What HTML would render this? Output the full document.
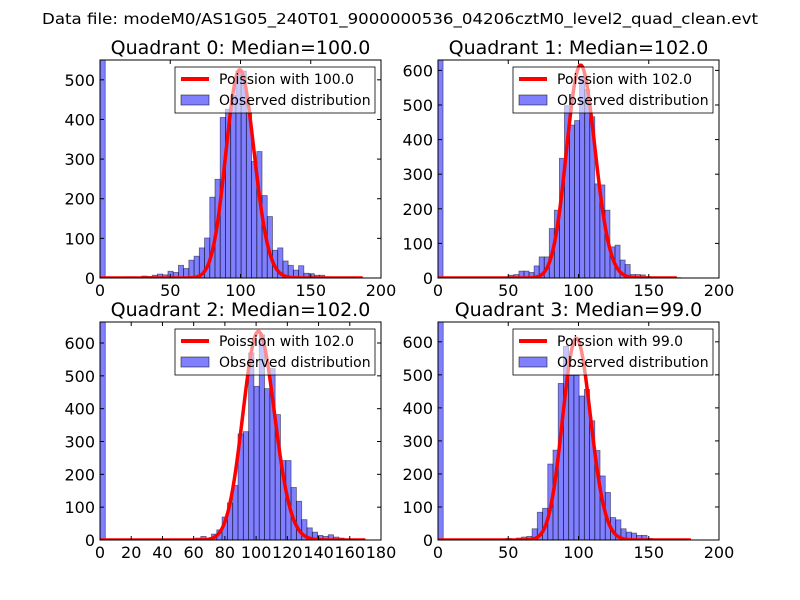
<!DOCTYPE html>
<html><head><meta charset="utf-8"><style>
body{margin:0;background:#fff}
svg{display:block;font-family:"DejaVu Sans","Liberation Sans",sans-serif}
</style></head><body>
<svg id="fig" width="800" height="600" viewBox="0 0 800 600">
<rect width="800" height="600" fill="#fff"/>
<text x="400" y="24" font-size="15" text-anchor="middle" textLength="716" lengthAdjust="spacingAndGlyphs">Data file: modeM0/AS1G05_240T01_9000000536_04206cztM0_level2_quad_clean.evt</text>
</svg>
<script>
// Quadrant data (bin counts by bin index starting at 0)
const q0Counts = [600,0,0,0,0,3,3,0,5,4,7,10,8,17,14,32,24,45,55,76,101,204,249,405,426,460,522,522,418,294,319,208,155,70,76,43,32,20,31,12,11,7,7,3,2];
const q1Counts = [700,0,0,0,0,0,0,0,0,0,0,0,0,0,8,10,20,20,16,35,61,61,143,196,346,498,442,455,583,545,466,272,269,196,90,95,52,39,10,10,9,4,3,2,2,1,1,1];
const q2Counts = [700,0,0,0,0,0,0,0,0,0,0,0,0,0,0,0,0,0,6,11,2,18,31,70,113,166,323,330,570,468,625,461,522,382,242,242,160,118,62,37,24,14,11,16,9,6];
const q3Counts = [700,0,0,0,0,0,0,0,0,0,0,0,0,5,3,6,9,11,34,84,96,230,272,474,586,498,498,436,456,361,271,194,144,68,61,34,24,21,14,14,5,3,2,1];
const binWidths = [3.72,3.6,3.4,3.72];
const medians = [100,102,102,99];
const curvePeaks = [525,615,635,610];
const curveEnds = [187,170,170,180];
const xMaxes = [200,200,180,200];
const yMaxes = [550,630,664,660];
const xTickLabels = [[0,50,100,150,200],[0,50,100,150,200],[0,20,40,60,80,100,120,140,160,180],[0,50,100,150,200]];
const yTickLabels = [[0,100,200,300,400,500],[0,100,200,300,400,500,600],[0,100,200,300,400,500,600],[0,100,200,300,400,500,600]];
const allCounts = [q0Counts,q1Counts,q2Counts,q3Counts];
const titles = ["Quadrant 0: Median=100.0","Quadrant 1: Median=102.0","Quadrant 2: Median=102.0","Quadrant 3: Median=99.0"];
const legendLabels = ["Poission with 100.0","Poission with 102.0","Poission with 102.0","Poission with 99.0"];

const NS="http://www.w3.org/2000/svg";
const fig=document.getElementById('fig');
function mk(tag,attrs,parent){const e=document.createElementNS(NS,tag);for(const k in attrs)e.setAttribute(k,attrs[k]);(parent||fig).appendChild(e);return e;}
const boxes=[[100,60,381,278],[438,60,719,278],[100,322,381,540],[438,322,719,540]];
function logPmf(k,l){let lg=0;for(let i=2;i<=k;i++)lg+=Math.log(i);return k*Math.log(l)-l-lg;}

for(let q=0;q<4;q++){
  const [L,T,R,B]=boxes[q];
  const xs=v=>L+(v/xMaxes[q])*(R-L);
  const ys=v=>B-(v/yMaxes[q])*(B-T);
  const g=mk('g',{});
  
  
  const clipId='c'+q;
  const cp=mk('clipPath',{id:clipId},g);mk('rect',{x:L,y:T,width:R-L,height:B-T},cp);
  const plot=mk('g',{'clip-path':'url(#'+clipId+')'},g);
  // bars
  const c=allCounts[q];const w=binWidths[q];
  for(let i=0;i<c.length;i++){
    if(c[i]<=0)continue;
    const x0=xs(i*w),x1=xs((i+1)*w),y0=ys(c[i]);
    const r=mk('rect',{x:x0,y:y0,width:x1-x0,height:B-y0,fill:'rgba(0,0,255,0.5)',stroke:'rgba(0,0,0,0.5)','stroke-width':0.8},plot);
    
    
  }
  // poisson curve
  const lam=medians[q];const pk=Math.exp(logPmf(Math.round(lam),lam));
  let d='';
  for(let k=0;k<=curveEnds[q];k++){const v=curvePeaks[q]*Math.exp(logPmf(k,lam))/pk;d+=(k?'L':'M')+xs(k).toFixed(2)+','+ys(v).toFixed(2);}
  const curve=mk('path',{d:d,fill:'none',stroke:'#ff0000','stroke-width':3.5,'stroke-linejoin':'round'},plot);
  
  
  // frame
  mk('rect',{x:L,y:T,width:R-L,height:B-T,fill:'none',stroke:'#000','stroke-width':1},g);
  // x ticks
  xTickLabels[q].forEach(v=>{const x=xs(v);
    mk('line',{x1:x,y1:B,x2:x,y2:B-4,stroke:'#000'},g);mk('line',{x1:x,y1:T,x2:x,y2:T+4,stroke:'#000'},g);
    const t=mk('text',{x:x,y:B+18,'font-size':16,'text-anchor':'middle'},g);t.textContent=v;
    
    
  });
  yTickLabels[q].forEach(v=>{const y=ys(v);
    mk('line',{x1:L,y1:y,x2:L+4,y2:y,stroke:'#000'},g);mk('line',{x1:R,y1:y,x2:R-4,y2:y,stroke:'#000'},g);
    const t=mk('text',{x:L-5,y:y+6,'font-size':16,'text-anchor':'end'},g);t.textContent=v;
    
    
  });
  const tt=mk('text',{x:(L+R)/2,y:T-6,'font-size':19,'text-anchor':'middle'},g);tt.textContent=titles[q];
  
  
  // legend
  const lg=mk('g',{},g);
  
  
  const lx=R-206,ly=T+7;
  mk('rect',{x:lx,y:ly,width:200,height:46,fill:'rgba(255,255,255,0.55)',stroke:'#000','stroke-width':0.8},lg);
  mk('line',{x1:lx+6,y1:ly+12,x2:lx+34,y2:ly+12,stroke:'#ff0000','stroke-width':4},lg);
  mk('rect',{x:lx+6,y:ly+28,width:28,height:10,fill:'rgba(0,0,255,0.5)',stroke:'rgba(0,0,0,0.5)'},lg);
  const t1=mk('text',{x:lx+44,y:ly+17,'font-size':14},lg);t1.textContent=legendLabels[q];
  
  
  const t2=mk('text',{x:lx+44,y:ly+38,'font-size':14},lg);t2.textContent='Observed distribution';
  
  
}
</script>
</body></html>
